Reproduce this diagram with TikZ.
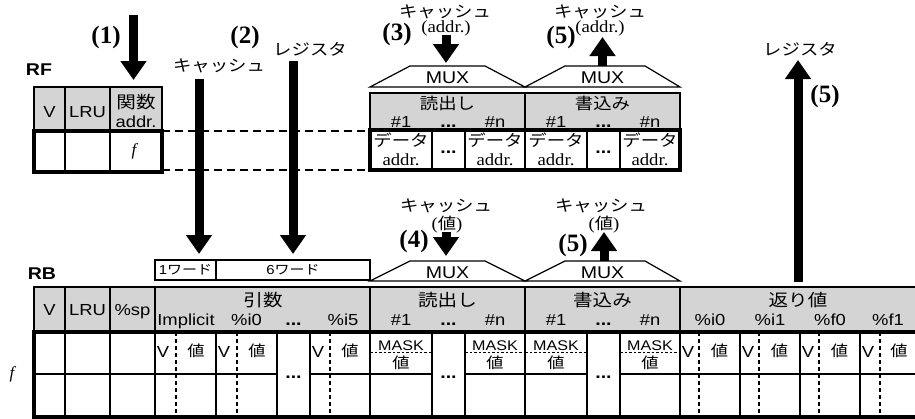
\documentclass[tikz,border=0pt]{standalone}
\usepackage{fontspec}
\setmainfont{Liberation Serif}
\setsansfont{Liberation Sans}[FakeStretch=1.15]
\newfontfamily\jp{Noto Sans CJK JP}[FakeStretch=1.15]
\newfontfamily\sw{Liberation Serif}[FakeStretch=1.1]
\usetikzlibrary{arrows.meta}
\definecolor{hdrgray}{RGB}{212,212,212}
\newcommand\fsz[1]{\fontsize{#1}{#1}\selectfont}
\begin{document}
\begin{tikzpicture}[x=1pt,y=-1pt,
  tline/.style={line width=1.2pt},
  bline/.style={line width=3.5pt},
  hdr/.style={fill=hdrgray, draw=black, line width=1.2pt},
  dline/.style={line width=1.1pt, dash pattern=on 8pt off 5pt},
  vdash/.style={line width=1.3pt, dash pattern=on 4pt off 3pt},
  mdash/.style={line width=1pt, dash pattern=on 2.5pt off 2pt},
  bigarrow/.style={line width=9pt, -{Triangle[width=25pt,length=19pt]}},
  lbl/.style={inner sep=0pt, outer sep=0pt},
  sf/.style={lbl, font=\sffamily\fsz{16}},
  dotn/.style={lbl, anchor=base, font=\sffamily\bfseries\fsz{17}, text height=4pt, text depth=0pt},
  jtx/.style={lbl, font=\jp\fsz{17}},
  kana/.style={lbl, font=\jp\fsz{16}},
  stepno/.style={lbl, font=\rmfamily\bfseries\fsz{25}},
  mux/.style={fill=white, draw=black, line width=1.2pt},
]
\useasboundingbox (0,0) rectangle (915,418);

% ---------------- RF ----------------
\node[lbl, font=\sffamily\bfseries\fsz{17}] (rf) at (39,70) {RF};
\filldraw[hdr] (34,87) rectangle (162,131);
\draw[tline] (65,87) -- (65,172) (110,87) -- (110,172);
\draw[bline] (34,131) rectangle (162,172);
\node[sf, anchor=base] (rfv) at (49.5,117) {V};
\node[sf, anchor=base] (rflru) at (87.5,117) {LRU};
\node[jtx] (rffn) at (136,102) {関数};
\node[sf, anchor=base] (rfaddr) at (136,127) {addr.};
\node[lbl, font=\itshape\fsz{17}] (rff) at (134,151) {f};

% dashed guide lines
\coordinate (dl1a) at (162,131); \coordinate (dl1b) at (370,131);
\coordinate (dl2a) at (162,170); \coordinate (dl2b) at (370,170);
\draw[dline] (dl1a) -- (dl1b);
\draw[dline] (dl2a) -- (dl2b);

% ---------------- top MUX + table ----------------
\filldraw[mux] (370,87) -- (410,66) -- (485,66) -- (525,87) -- cycle;
\filldraw[mux] (525,87) -- (565,66) -- (645,66) -- (680,87) -- cycle;
\node[sf, anchor=base, font=\sffamily\fsz{17}] (mux1) at (447.5,83) {MUX};
\node[sf, anchor=base, font=\sffamily\fsz{17}] (mux2) at (602.5,83) {MUX};

\filldraw[hdr] (370,93) rectangle (680,130);
\draw[tline] (525,93) -- (525,130);
\foreach \x in {432,465,525,587,620} \draw[tline] (\x,130) -- (\x,170);
\draw[bline] (370,130) rectangle (680,170);
\node[jtx, font=\jp\fsz{16}] (trd) at (447.5,103) {読出し};
\node[jtx, font=\jp\fsz{16}] (twr) at (602.5,103) {書込み};
\foreach \c/\t [count=\i] in {401/\#1, 495/\#n, 556/\#1, 650/\#n}
  \node[sf, anchor=base] (th\i) at (\c,127) {\t};
\node[dotn] (thd1) at (448.5,127) {...};
\node[dotn] (thd2) at (603.5,127) {...};
\foreach \c [count=\i] in {401,495,556,650} {
  \node[kana, font=\jp\fsz{16}] (tdd\i) at (\c,140) {データ};
  \node[lbl, anchor=base, font=\sw\fsz{17}] (tda\i) at (\c,165) {addr.};
}
\node[dotn] (tdots1) at (448.5,153) {...};
\node[dotn] (tdots2) at (603.5,153) {...};

% ---------------- top labels and arrows ----------------
\node[stepno] (s1) at (106,37) {(1)};
\node[stepno] (s2) at (245,37) {(2)};
\node[kana] (c2) at (219,66) {キャッシュ};
\node[kana] (r2) at (310,49) {レジスタ};
\node[stepno] (s3) at (397,34) {(3)};
\node[kana] (c3) at (445,12) {キャッシュ};
\node[lbl, font=\sw\fsz{17}] (a3) at (446,28) {(addr.)};
\node[stepno] (s5a) at (561,37) {(5)};
\node[kana] (c5a) at (600,12) {キャッシュ};
\node[lbl, font=\sw\fsz{17}] (a5a) at (600,28) {(addr.)};
\node[kana] (r5) at (800,49) {レジスタ};
\node[stepno] (s5c) at (825,96) {(5)};

\coordinate (ar1s) at (133.5,15);  \coordinate (ar1e) at (133.5,80);
\coordinate (ar2s) at (199,79);    \coordinate (ar2e) at (199,254);
\coordinate (ar3s) at (293,61);    \coordinate (ar3e) at (293,254);
\coordinate (ar4s) at (446,35);    \coordinate (ar4e) at (446,63);
\coordinate (ar5s) at (602.5,66);  \coordinate (ar5e) at (602.5,37);
\coordinate (ar6s) at (446,232);   \coordinate (ar6e) at (446,256);
\coordinate (ar7s) at (604,261);   \coordinate (ar7e) at (604,232);
\coordinate (ar8s) at (798,282);   \coordinate (ar8e) at (798,60);
\foreach \i in {1,...,8} \draw[bigarrow] (ar\i s) -- (ar\i e);

% ---------------- middle labels ----------------
\node[kana] (c4) at (446,206) {キャッシュ};
\node[lbl, font=\sw\fsz{17}] (v4) at (447,225) {({\jp\fsz{16}値})};
\node[stepno] (s4) at (414,241) {(4)};
\node[kana] (c5b) at (601,206) {キャッシュ};
\node[lbl, font=\sw\fsz{17}] (v5) at (604,225) {({\jp\fsz{16}値})};
\node[stepno] (s5b) at (573,245) {(5)};

% word boxes
\draw[tline] (155,260) rectangle (216,280);
\draw[tline] (216,260) rectangle (370,280);
\node[lbl, font=\sffamily\fsz{13}] (w1) at (185.5,270) {1{\jp ワード}};
\node[lbl, font=\sffamily\fsz{13}] (w6) at (293,270) {6{\jp ワード}};

% bottom MUX
\filldraw[mux] (370,281) -- (410,261) -- (485,261) -- (525,281) -- cycle;
\filldraw[mux] (525,281) -- (565,261) -- (645,261) -- (680,281) -- cycle;
\node[sf, anchor=base, font=\sffamily\fsz{17}] (mux3) at (447.5,278) {MUX};
\node[sf, anchor=base, font=\sffamily\fsz{17}] (mux4) at (602.5,278) {MUX};

% ---------------- RB ----------------
\node[lbl, font=\sffamily\bfseries\fsz{17}] (rb) at (42,274) {RB};
\filldraw[hdr] (34,287) rectangle (918,332);
\foreach \x in {65,110,155,370,525,680} \draw[tline] (\x,287) -- (\x,332);
\foreach \x in {65,110,155,216,277,310,370,432,465,525,587,620,680,740,800,860}
  \draw[tline] (\x,332) -- (\x,417);
\draw[tline] (34,374) -- (277,374) (310,374) -- (432,374) (465,374) -- (587,374) (620,374) -- (918,374);
\draw[bline] (918,332) -- (34,332) -- (34,417) -- (918,417);

\node[sf, anchor=base] (rbv) at (49.5,315) {V};
\node[sf, anchor=base] (rblru) at (87.5,315) {LRU};
\node[sf, anchor=base] (rbsp) at (132.5,315) {\%sp};
\node[jtx] (rbarg) at (263,300) {引数};
\node[jtx] (rbrd) at (447.5,300) {読出し};
\node[jtx] (rbwr) at (602.5,300) {書込み};
\node[jtx] (rbret) at (798,300) {返り値};
\foreach \c/\t [count=\i] in {186/Implicit, 246.5/\%i0, 343/\%i5,
    401/\#1, 495/\#n, 556/\#1, 650/\#n,
    710/\%i0, 770/\%i1, 830/\%f0, 888/\%f1}
  \node[sf, anchor=base] (rh\i) at (\c,325) {\t};
\foreach \c [count=\i] in {293.5,448.5,603.5}
  \node[dotn] (rhd\i) at (\c,325) {...};

\foreach \l/\d/\r [count=\i] in {155/176/216, 216/237/277, 310/330/370, 680/699/740, 740/759/800, 800/819/860, 860/880/918} {
  \draw[vdash] (\d,332) -- (\d,417);
  \node[sf, anchor=base] (cv\i) at (\l+8,357) {V};
  \node[kana, font=\jp\fsz{15}] (cz\i) at ({(\d+\r)/2},351) {値};
}
\foreach \a/\b [count=\i] in {370/432, 465/525, 525/587, 620/680} {
  \draw[mdash] (\a,352) -- (\b,352);
  \node[sf, anchor=base, font=\sffamily\fsz{14}] (mk\i) at ({(\a+\b)/2},350) {MASK};
  \node[kana, font=\jp\fsz{15}] (mv\i) at ({(\a+\b)/2},363) {値};
}
\foreach \c [count=\i] in {293.5,448.5,603.5}
  \node[dotn] (dd\i) at (\c,378) {...};
\node[lbl, font=\itshape\fsz{17}] (rbf) at (12,374) {f};
\end{tikzpicture}
\end{document}
